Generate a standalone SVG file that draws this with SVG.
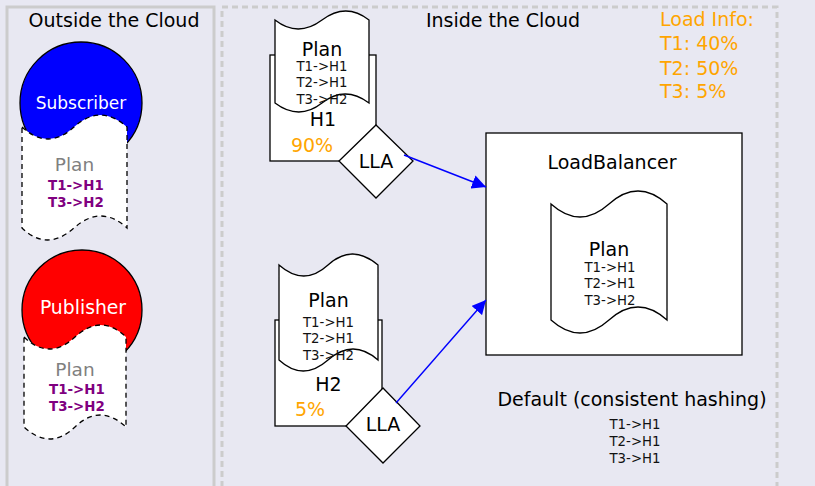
<svg xmlns="http://www.w3.org/2000/svg" width="815" height="486" viewBox="0 0 815 486">
<defs>
<style>
text{font-family:"DejaVu Sans","Liberation Sans",sans-serif;text-anchor:middle}
.lg{font-size:19px;fill:#000}
.sm{font-size:13.3px;fill:#111}
.bp{font-size:13.4px;font-weight:bold;fill:#800080}
.gp{font-size:18.5px;fill:#808080}
.or{fill:#ffa500}
.box{fill:#fff;stroke:#000;stroke-width:1.3}
.doc{fill:#fff;stroke:#000;stroke-width:1.3}
.ddoc{fill:#fff;stroke:#000;stroke-width:1.3;stroke-dasharray:5,4}
.edge{stroke:#0000ff;stroke-width:1.4;fill:none}
</style>
<marker id="ah" viewBox="0 0 10 10" refX="10" refY="5" markerWidth="14" markerHeight="14" markerUnits="userSpaceOnUse" orient="auto">
<path d="M0,0 L10,5 L0,10 Z" fill="#0000ff"/>
</marker>
</defs>
<rect width="815" height="486" fill="#e8e8f2"/>

<g id="outside">
<rect x="7" y="7" width="207" height="500" fill="none" stroke="#cccccc" stroke-width="3"/>
<text class="lg" x="114" y="27">Outside the Cloud</text>
</g>
<g id="inside">
<rect x="222" y="7" width="555" height="500" fill="none" stroke="#cccccc" stroke-width="3" stroke-dasharray="6,4"/>
<text class="lg" x="503" y="27">Inside the Cloud</text>
</g>

<g id="subscriber">
<circle cx="81" cy="103" r="61" fill="#0000ff" stroke="#000" stroke-width="1.3"/>
<text x="81" y="109" style="font-size:17px;fill:#fff">Subscriber</text>
<path class="ddoc" d="M22,127 Q48,151 74,127 T127,127 L127,228 Q101,204 74,228 T22,228 Z"/>
<text class="gp" x="74.5" y="171">Plan</text>
<text class="bp" x="76" y="190">T1-&gt;H1</text>
<text class="bp" x="76" y="207">T3-&gt;H2</text>
</g>

<g id="publisher">
<circle cx="82" cy="310" r="60" fill="#ff0000" stroke="#000" stroke-width="1.3"/>
<text x="83" y="314" style="font-size:18.8px;fill:#fff">Publisher</text>
<path class="ddoc" d="M24,337 Q49,361 75,337 T126,337 L126,427 Q100,403 75,427 T24,427 Z"/>
<text class="gp" x="75" y="376">Plan</text>
<text class="bp" x="77" y="394">T1-&gt;H1</text>
<text class="bp" x="77" y="411">T3-&gt;H2</text>
</g>

<g id="H1">
<rect class="box" x="270" y="55" width="106" height="106"/>
<path class="doc" d="M275,20 Q298,38 322,20 T369,20 L369,103 Q345,85 322,103 T275,103 Z"/>
<text class="lg" x="322" y="56">Plan</text>
<text class="sm" x="322" y="71">T1-&gt;H1</text>
<text class="sm" x="322" y="87">T2-&gt;H1</text>
<text class="sm" x="322" y="104">T3-&gt;H2</text>
<text class="lg" x="323" y="126">H1</text>
<text class="lg or" x="312" y="152">90%</text>
</g>
<g id="LLA1">
<path class="box" d="M376,125 L413,161 L376,198 L339,161 Z"/>
<text class="lg" x="376" y="168">LLA</text>
</g>

<g id="H2">
<rect class="box" x="275" y="320" width="107" height="106"/>
<path class="doc" d="M279,265 Q304,287 328,265 T378,265 L378,360 Q353,338 328,360 T279,360 Z"/>
<text class="lg" x="328.5" y="307">Plan</text>
<text class="sm" x="328.5" y="327">T1-&gt;H1</text>
<text class="sm" x="328.5" y="343">T2-&gt;H1</text>
<text class="sm" x="328.5" y="360">T3-&gt;H2</text>
<text class="lg" x="328.5" y="391">H2</text>
<text class="lg or" x="310" y="416">5%</text>
</g>
<g id="LLA2">
<path class="box" d="M383,388 L420,426 L383,463 L346,426 Z"/>
<text class="lg" x="383" y="431">LLA</text>
</g>

<g id="LoadBalancer">
<rect class="box" x="486" y="133" width="256" height="222"/>
<text class="lg" x="612" y="169">LoadBalancer</text>
<path class="doc" d="M551,204 Q580,230 609,204 T667,204 L667,320 Q638,294 609,320 T551,320 Z"/>
<text class="lg" x="609" y="256">Plan</text>
<text class="sm" x="610" y="272">T1-&gt;H1</text>
<text class="sm" x="610" y="288">T2-&gt;H1</text>
<text class="sm" x="610" y="305">T3-&gt;H2</text>
</g>

<g id="default">
<text class="lg" x="632" y="406">Default (consistent hashing)</text>
<text class="sm" x="635" y="429">T1-&gt;H1</text>
<text class="sm" x="635" y="446">T2-&gt;H1</text>
<text class="sm" x="635" y="463">T3-&gt;H1</text>
</g>

<g id="loadinfo" style="font-size:19px">
<text class="or" x="660" y="26" style="text-anchor:start">Load Info:</text>
<text class="or" x="660" y="50" style="text-anchor:start">T1: 40%</text>
<text class="or" x="660" y="75" style="text-anchor:start">T2: 50%</text>
<text class="or" x="660" y="98" style="text-anchor:start">T3: 5%</text>
</g>

<g id="connectors">
<path class="edge" d="M404,155 L486,187" marker-end="url(#ah)"/>
<path class="edge" d="M396,403 L486,300" marker-end="url(#ah)"/>
</g>
</svg>
